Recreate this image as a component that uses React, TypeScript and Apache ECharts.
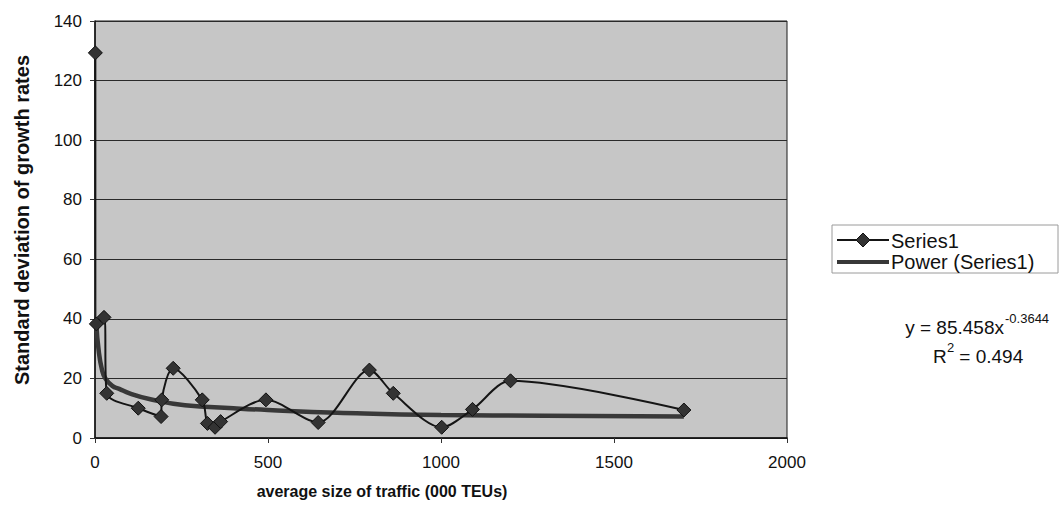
import React, { useEffect, useRef } from "react";
import * as echarts from "echarts";

const seriesX = [1, 4, 26, 34, 125, 191, 193, 226, 310, 325, 347, 363, 494, 645, 793, 862, 1002, 1091, 1201, 1702];
const seriesY = [129.3, 38.3, 40.5, 15.0, 10.0, 7.2, 12.8, 23.4, 12.8, 4.9, 3.6, 5.5, 12.8, 5.2, 22.8, 15.0, 3.6, 9.6, 19.2, 9.4];

const trendX = [4, 10, 20, 30, 50, 70, 100, 160, 260, 400, 500, 700, 1000, 1300, 1702];
const trendY = [38, 30, 23, 20, 17.5, 16.5, 15, 13, 11, 10, 9.4, 8.5, 7.7, 7.5, 7.2];

const xTicks = { min: 0, max: 2000, interval: 500 };
const yTicks = { min: 0, max: 140, interval: 20 };

const seriesNames = ["Series1", "Power (Series1)"];
const xTitle = "average size of traffic (000 TEUs)";
const yTitle = "Standard deviation of growth rates";
const equationMain = "y = 85.458x";
const equationSup = "-0.3644";
const r2Text = "0.494";

const FONT = "'Liberation Sans', Arial, sans-serif";

export default function App() {
  const ref = useRef<HTMLDivElement>(null);
  useEffect(() => {
    if (!ref.current) return;
    const chart = echarts.init(ref.current, undefined, { renderer: "svg" });
    const s1 = seriesX.map((x, i) => [x, seriesY[i]]);
    const tr = trendX.map((x, i) => [x, trendY[i]]);
    const txt = (x: number, y: number, text: string, size: number, align = "left", extra: any = {}) => ({
      type: "text",
      x,
      y,
      z: 10,
      style: { text, fontSize: size, fontFamily: FONT, fill: "#111", align, verticalAlign: "middle", ...extra },
    });
    chart.setOption({
      animation: false,
      backgroundColor: "#ffffff",
      textStyle: { fontFamily: FONT },
      grid: {
        left: 95,
        right: 275,
        top: 21,
        bottom: 82,
        show: true,
        backgroundColor: "#c6c6c6",
        borderColor: "#1a1a1a",
        borderWidth: 1,
      },
      xAxis: {
        type: "value",
        min: xTicks.min,
        max: xTicks.max,
        interval: xTicks.interval,
        axisLine: { show: true, lineStyle: { color: "#111", width: 1.5 } },
        axisTick: { show: true, length: 5, lineStyle: { color: "#333" } },
        splitLine: { show: false },
        axisLabel: {
          fontSize: 17,
          color: "#111",
          margin: 16,
          fontFamily: FONT,
          formatter: (v: number) => String(v),
        },
      },
      yAxis: {
        type: "value",
        min: yTicks.min,
        max: yTicks.max,
        interval: yTicks.interval,
        axisLine: { show: true, lineStyle: { color: "#111", width: 1.5 } },
        axisTick: { show: true, length: 5, lineStyle: { color: "#333" } },
        splitLine: { show: true, lineStyle: { color: "#2a2a2a", width: 1 } },
        axisLabel: { fontSize: 17, color: "#111", margin: 13, fontFamily: FONT },
      },
      series: [
        {
          name: seriesNames[1],
          type: "line",
          data: tr,
          smooth: true,
          showSymbol: false,
          symbol: "none",
          lineStyle: { color: "#383838", width: 4.5 },
          itemStyle: { color: "#383838" },
          z: 2,
        },
        {
          name: seriesNames[0],
          type: "line",
          data: s1,
          smooth: 0.3,
          symbol: "diamond",
          symbolSize: 14,
          lineStyle: { color: "#151515", width: 2 },
          itemStyle: { color: "#333", borderColor: "#111", borderWidth: 1 },
          z: 3,
        },
      ],
      graphic: [
        {
          type: "rect",
          shape: { x: 832, y: 225, width: 226, height: 48 },
          style: { fill: "#fff", stroke: "#9a9a9a", lineWidth: 1 },
        },
        {
          type: "line",
          shape: { x1: 837, y1: 240, x2: 889, y2: 240 },
          style: { stroke: "#151515", lineWidth: 2 },
        },
        {
          type: "polygon",
          shape: { points: [[863, 233], [870, 240], [863, 247], [856, 240]] },
          style: { fill: "#333", stroke: "#111", lineWidth: 1 },
        },
        txt(891, 241, seriesNames[0], 20),
        {
          type: "line",
          shape: { x1: 837, y1: 262, x2: 889, y2: 262 },
          style: { stroke: "#383838", lineWidth: 4 },
        },
        txt(891, 262, seriesNames[1], 20),
        { ...txt(22, 220, yTitle, 20, "center", { fontWeight: "bold" }), rotation: Math.PI / 2 },
        txt(382, 491, xTitle, 16, "center", { fontWeight: "bold" }),
        txt(1004, 327, equationMain, 19, "right"),
        txt(1005, 318, equationSup, 13, "left"),
        txt(933, 356, "R", 19),
        txt(947, 347, "2", 13),
        txt(954, 356, " = " + r2Text, 19),
      ],
    });
    return () => chart.dispose();
  }, []);
  return (
    <div
      ref={ref}
      style={{ position: "fixed", left: 0, top: 0, width: 1062, height: 520, background: "#fff" }}
    />
  );
}
